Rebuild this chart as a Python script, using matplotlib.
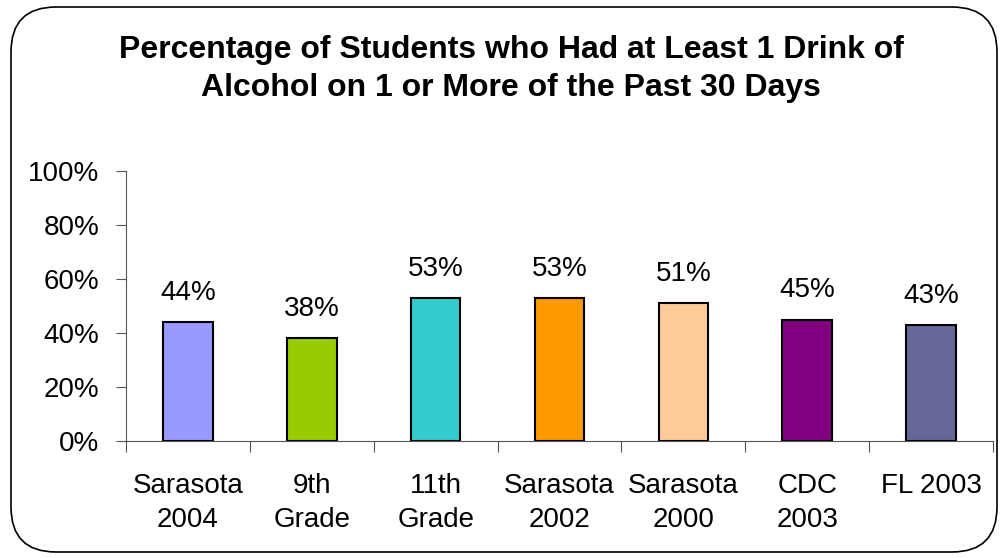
import matplotlib
matplotlib.use("Agg")
import matplotlib.pyplot as plt
from matplotlib.patches import FancyBboxPatch
from matplotlib.ticker import FuncFormatter

plt.rcParams["font.family"] = ["Liberation Sans", "DejaVu Sans"]

categories = ["Sarasota\n2004", "9th\nGrade", "11th\nGrade", "Sarasota\n2002",
              "Sarasota\n2000", "CDC\n2003", "FL 2003"]
values = [44, 38, 53, 53, 51, 45, 43]
colours = ["#9999FF", "#99CC00", "#33CCCC", "#FF9900", "#FFCC99", "#800080", "#666699"]
title = "Percentage of Students who Had at Least 1 Drink of\nAlcohol on 1 or More of the Past 30 Days"

W, H = 1002, 558
fig = plt.figure(figsize=(W / 100, H / 100), dpi=100)
fig.patch.set_facecolor("white")

# rounded chart border
border = FancyBboxPatch((11 / W, 6 / H), (986 / W), (545 / H),
                        boxstyle="round,pad=0,rounding_size=0.045",
                        transform=fig.transFigure, facecolor="none",
                        edgecolor="black", linewidth=1.2,
                        mutation_aspect=W / H)
fig.patches.append(border)

ax = fig.add_axes([126 / W, (H - 441) / H, (993 - 126) / W, (441 - 171) / H])
x = list(range(len(values)))
ax.bar(x, values, width=0.4, color=colours, edgecolor="black", linewidth=1.5, zorder=3)
for xi, v in zip(x, values):
    ax.text(xi, v + 6, f"{v}%", ha="center", va="bottom", fontsize=20)

ax.set_xlim(-0.5, len(values) - 0.5)
ax.set_ylim(0, 100)
ax.set_yticks([0, 20, 40, 60, 80, 100])
ax.yaxis.set_major_formatter(FuncFormatter(lambda v, _: f"{v:.0f}%"))
ax.set_xticks([i - 0.5 for i in range(len(values) + 1)])
ax.set_xticklabels([])
ax.set_xticks(x, minor=True)
ax.set_xticklabels(categories, minor=True, fontsize=20, linespacing=1.42)
ax.tick_params(axis="x", which="minor", length=0, pad=23)
ax.tick_params(axis="x", which="major", length=8, direction="out", color="#555555")
ax.tick_params(axis="y", length=7, direction="out", labelsize=20, pad=12, color="#555555")
for s in ["top", "right"]:
    ax.spines[s].set_visible(False)
ax.spines["left"].set_color("#555555")
ax.spines["bottom"].set_color("#555555")
ax.set_facecolor("none")

fig.text(0.51, 1 - 69 / H, title, ha="center", va="center", fontsize=23,
         fontweight="bold", linespacing=1.38)

fig.savefig("out.png", dpi=100)
